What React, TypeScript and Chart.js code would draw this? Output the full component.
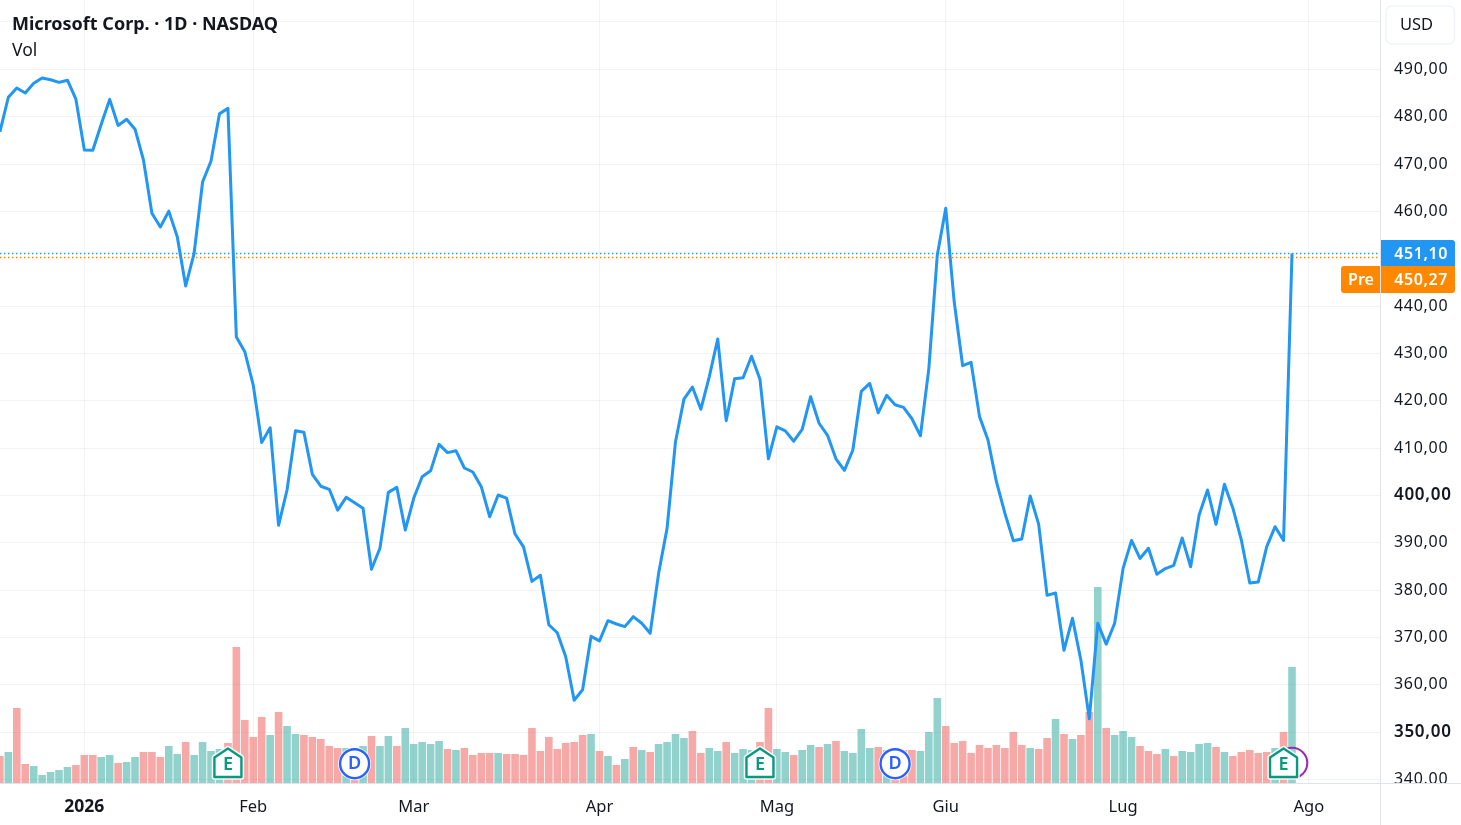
import React, { useEffect, useRef } from "react";
import { Chart, registerables } from "chart.js";

Chart.register(...registerables);

const titleText = "Microsoft Corp. · 1D · NASDAQ";
const volumeLabel = "Vol";
const currency = "USD";

// Daily closes, session by session
const closes = [
  476.8, 484.1, 486.05, 485.0, 487.05, 488.15, 487.8, 487.25, 487.7, 483.7,
  472.95, 472.9, 478.4, 483.65, 478.15, 479.45, 477.35, 470.85, 459.6, 456.7,
  460.05, 454.65, 444.25, 451.15, 466.2, 470.65, 480.6, 481.75, 433.45, 430.35,
  423.3, 411.2, 414.3, 393.7, 401.15, 413.65, 413.35, 404.45, 401.95, 401.3,
  396.9, 399.6, 398.45, 397.3, 384.4, 388.85, 400.65, 401.7, 392.7, 399.4,
  403.95, 405.2, 410.8, 409.05, 409.45, 405.8, 404.95, 401.85, 395.5, 400.1,
  399.45, 391.85, 389.15, 381.85, 383.15, 372.7, 371.0, 365.95, 356.75, 358.95,
  370.25, 369.3, 373.55, 372.85, 372.3, 374.4, 373.0, 370.9, 383.55, 393.05,
  411.35, 420.35, 422.9, 418.2, 425.1, 433.05, 415.8, 424.65, 424.85, 429.4,
  424.55, 407.75, 414.5, 413.65, 411.45, 413.95, 420.85, 415.25, 412.7, 407.75,
  405.3, 409.6, 422.0, 423.65, 417.45, 421.15, 419.15, 418.6, 416.2, 412.6,
  426.85, 450.8, 460.65, 440.9, 427.4, 428.1, 416.65, 411.7, 402.9, 396.25,
  390.45, 390.8, 399.9, 393.95, 378.9, 379.4, 367.3, 374.05, 365.25, 352.85,
  373.0, 368.6, 373.0, 384.6, 390.5, 386.7, 388.85, 383.35, 384.55, 385.25,
  391.0, 384.95, 395.85, 401.15, 393.9, 402.35, 397.3, 390.6, 381.5, 381.7,
  389.15, 393.4, 390.5, 451.1,
];

// Volume per session, relative units
const volumes = [
  27, 31, 75, 19, 17, 8, 11, 13, 16, 18,
  28, 28, 26, 28, 20, 21, 26, 31, 31, 26,
  37, 29, 41, 28, 41, 32, 34, 40, 136, 63,
  46, 66, 48, 71, 57, 49, 48, 46, 44, 37,
  35, 35, 30, 37, 47, 37, 47, 37, 55, 39,
  41, 39, 42, 34, 33, 35, 28, 30, 30, 30,
  29, 29, 28, 55, 32, 46, 34, 40, 41, 48,
  49, 32, 27, 18, 24, 36, 33, 31, 39, 41,
  49, 45, 52, 30, 35, 32, 41, 30, 34, 33,
  41, 75, 34, 31, 28, 33, 38, 36, 39, 42,
  32, 30, 54, 35, 36, 33, 34, 33, 33, 32,
  51, 85, 57, 40, 42, 30, 38, 35, 38, 35,
  51, 38, 35, 34, 45, 64, 49, 44, 48, 71,
  196, 55, 48, 52, 46, 37, 32, 29, 34, 27,
  32, 31, 39, 40, 36, 31, 27, 31, 33, 30,
  31, 35, 51, 116,
];

// U = up session (teal bar), D = down session (red bar)
const sessionDirections =
  "DUDDUUUUUDDDUUDUUDDDUUDUUUUDDDDDUDUUDDDDDUDUDUUDUUUUUDUDDDDUDDDDDDDDDDUDUDUDUDUUUUDDUUDUUUDDUUDUUDUDUUUUDUDDDUUUD" +
  "DDDDDDDDDUDDUDUDDUDUUUDDDUDUUUUDUDDDDDUDU";

const monthTickIndex = [10, 30, 49, 71, 92, 112, 133, 155];
const monthTickLabels = ["2026", "Feb", "Mar", "Apr", "Mag", "Giu", "Lug", "Ago"];
const priceTicks = [340, 350, 360, 370, 380, 390, 400, 410, 420, 430, 440, 450, 460, 470, 480, 490, 500];
const hiddenPriceTicks = [450, 500];

const lastPrice = 451.1;
const prePrice = 450.27;
const prePriceLabel = "Pre";
const earningsIndex = [27, 90, 152];
const dividendIndex = [42, 106];
const splitIndex = [153];

const INK = "#131722";
const FONT = '"Noto Sans", sans-serif';
const PLOT_RIGHT = 1380;
const PLOT_BOTTOM = 783;

const fmt = (v: number) => v.toFixed(2).replace(".", ",");

function roundedBox(ctx: CanvasRenderingContext2D, x: number, y: number, w: number, h: number, r: number | number[]) {
  ctx.beginPath();
  ctx.roundRect(x, y, w, h, r as any);
}

function drawEarnings(ctx: CanvasRenderingContext2D, x: number) {
  const top = 748.5, shoulder = 757.5, bottom = 777, half = 13.5;
  const path = () => {
    ctx.beginPath();
    ctx.moveTo(x, top);
    ctx.lineTo(x + half, shoulder);
    ctx.lineTo(x + half, bottom);
    ctx.lineTo(x - half, bottom);
    ctx.lineTo(x - half, shoulder);
    ctx.closePath();
  };
  ctx.lineJoin = "round";
  path();
  ctx.strokeStyle = "rgba(255,255,255,0.9)";
  ctx.lineWidth = 5.5;
  ctx.stroke();
  path();
  ctx.fillStyle = "#fff";
  ctx.fill();
  ctx.strokeStyle = "#089981";
  ctx.lineWidth = 2.4;
  ctx.stroke();
  ctx.fillStyle = "#089981";
  ctx.font = `600 18px ${FONT}`;
  ctx.textAlign = "center";
  ctx.textBaseline = "middle";
  ctx.fillText("E", x, 765);
}

function drawDividend(ctx: CanvasRenderingContext2D, x: number) {
  const y = 763.7;
  ctx.beginPath();
  ctx.arc(x, y, 16.5, 0, Math.PI * 2);
  ctx.fillStyle = "#fff";
  ctx.fill();
  ctx.beginPath();
  ctx.arc(x, y, 14.5, 0, Math.PI * 2);
  ctx.strokeStyle = "#2962ff";
  ctx.lineWidth = 2.4;
  ctx.stroke();
  ctx.fillStyle = "#2962ff";
  ctx.font = `600 18px ${FONT}`;
  ctx.textAlign = "center";
  ctx.textBaseline = "middle";
  ctx.fillText("D", x, 764);
}

const decorations = {
  id: "decorations",
  beforeDraw(chart: any) {
    // Wider digit spacing for the price axis labels
    chart.ctx.letterSpacing = "0.7px";
  },
  beforeDatasetsDraw(chart: any) {
    const { ctx, scales } = chart;
    ctx.letterSpacing = "0px";
    ctx.save();
    ctx.setLineDash([1.4, 2.6]);
    ctx.lineWidth = 1.3;
    ctx.strokeStyle = "#2196F3";
    const a = Math.floor(scales.y.getPixelForValue(lastPrice)) + 0.5;
    ctx.beginPath();
    ctx.moveTo(0, a);
    ctx.lineTo(PLOT_RIGHT - 2, a);
    ctx.stroke();
    ctx.strokeStyle = "#FF8800";
    const b = Math.floor(scales.y.getPixelForValue(prePrice)) + 0.5;
    ctx.beginPath();
    ctx.moveTo(0, b);
    ctx.lineTo(PLOT_RIGHT - 2, b);
    ctx.stroke();
    ctx.restore();
  },
  afterDatasetsDraw(chart: any) {
    const { ctx, scales } = chart;
    const W = chart.width, H = chart.height;
    ctx.save();
    // Clip the bottom price label at the time axis
    ctx.fillStyle = "#fff";
    ctx.fillRect(0, PLOT_BOTTOM, W, H - PLOT_BOTTOM);
    ctx.strokeStyle = "#E0E3EB";
    ctx.lineWidth = 1;
    ctx.beginPath();
    ctx.moveTo(0, PLOT_BOTTOM + 0.5);
    ctx.lineTo(W, PLOT_BOTTOM + 0.5);
    ctx.moveTo(PLOT_RIGHT + 0.5, 0);
    ctx.lineTo(PLOT_RIGHT + 0.5, H);
    ctx.stroke();

    // Event markers
    splitIndex.forEach((i) => {
      ctx.beginPath();
      ctx.arc(scales.x.getPixelForValue(i), 763, 15.3, 0, Math.PI * 2);
      ctx.strokeStyle = "#9C27B0";
      ctx.lineWidth = 2;
      ctx.stroke();
    });
    dividendIndex.forEach((i) => drawDividend(ctx, scales.x.getPixelForValue(i)));
    earningsIndex.forEach((i) => drawEarnings(ctx, scales.x.getPixelForValue(i)));

    // Legend
    ctx.fillStyle = INK;
    ctx.textAlign = "left";
    ctx.textBaseline = "middle";
    ctx.font = `700 18px ${FONT}`;
    ctx.fillText(titleText, 12, 25);
    ctx.font = `400 17.5px ${FONT}`;
    ctx.fillText(volumeLabel, 12, 51);

    // Currency button
    roundedBox(ctx, 1386, 6, 68.5, 38, 6);
    ctx.fillStyle = "#fff";
    ctx.fill();
    ctx.strokeStyle = "#F0F3FA";
    ctx.lineWidth = 1.5;
    ctx.stroke();
    ctx.fillStyle = INK;
    ctx.font = `400 16.5px ${FONT}`;
    ctx.fillText(currency, 1400, 25);

    // Price badges
    const lastY = scales.y.getPixelForValue(lastPrice);
    ctx.fillStyle = "#2196F3";
    roundedBox(ctx, 1381, 240, 74, 26, [0, 3, 0, 0]);
    ctx.fill();
    ctx.fillStyle = "#FF8800";
    roundedBox(ctx, 1381, 266, 74, 27, [0, 0, 3, 0]);
    ctx.fill();
    roundedBox(ctx, 1341, 266, 39, 27, [3, 0, 0, 3]);
    ctx.fill();
    ctx.fillStyle = "#fff";
    ctx.letterSpacing = "0.6px";
    ctx.font = `600 16px ${FONT}`;
    ctx.textAlign = "right";
    ctx.fillText(fmt(lastPrice), 1448, lastY + 0.5);
    ctx.fillText(fmt(prePrice), 1448, 280);
    ctx.letterSpacing = "0px";
    ctx.textAlign = "center";
    ctx.fillText(prePriceLabel, 1361, 280);
    ctx.restore();
  },
};

export default function App() {
  const ref = useRef<HTMLCanvasElement | null>(null);
  useEffect(() => {
    if (!ref.current) return;
    const chart = new Chart(ref.current, {
      type: "bar",
      plugins: [decorations],
      data: {
        datasets: [
          {
            type: "line",
            data: closes.map((y, x) => ({ x, y })),
            yAxisID: "y",
            borderColor: "#2196F3",
            borderWidth: 3,
            pointRadius: 0,
            tension: 0,
            borderJoinStyle: "round",
            order: 0,
          } as any,
          {
            type: "bar",
            data: volumes.map((y, x) => ({ x, y })),
            yAxisID: "vol",
            backgroundColor: volumes.map((_, i) =>
              sessionDirections[i] === "U" ? "rgba(38,166,154,0.5)" : "rgba(239,83,80,0.5)"
            ),
            barPercentage: 0.9,
            categoryPercentage: 1,
            order: 1,
          } as any,
        ],
      },
      options: {
        animation: false,
        responsive: false,
        devicePixelRatio: 1,
        layout: { padding: 0 },
        plugins: { legend: { display: false }, tooltip: { enabled: false }, title: { display: false } },
        scales: {
          x: {
            type: "linear",
            offset: false,
            min: 0.012,
            max: 163.42,
            afterBuildTicks: (s: any) => {
              s.ticks = monthTickIndex.map((value) => ({ value }));
            },
            afterFit: (s: any) => {
              s.height = 825 - PLOT_BOTTOM;
              s.paddingLeft = 0;
              s.paddingRight = 0;
            },
            grid: { color: "rgba(42,46,57,0.06)", drawTicks: false, offset: false },
            border: { display: false },
            ticks: {
              z: 1,
              autoSkip: false,
              maxRotation: 0,
              padding: 14,
              color: INK,
              font: (c: any) => ({
                family: FONT,
                size: c.tick && c.tick.value === monthTickIndex[0] ? 17.5 : 16.5,
                weight: c.tick && c.tick.value === monthTickIndex[0] ? 700 : 400,
              }),
              callback: (v: any) => {
                const k = monthTickIndex.indexOf(v);
                return k >= 0 ? monthTickLabels[k] : "";
              },
            },
          } as any,
          y: {
            position: "right",
            min: 339.27,
            max: 504.64,
            afterBuildTicks: (s: any) => {
              s.ticks = priceTicks.map((value) => ({ value }));
            },
            afterFit: (s: any) => {
              s.width = 1461 - PLOT_RIGHT;
              s.paddingTop = 0;
              s.paddingBottom = 0;
            },
            grid: {
              drawTicks: false,
              color: (c: any) =>
                c.tick && c.tick.value === 450 ? "rgba(0,0,0,0)" : "rgba(42,46,57,0.06)",
            },
            border: { display: false },
            ticks: {
              autoSkip: false,
              padding: 14,
              color: INK,
              font: (c: any) => ({
                family: FONT,
                size: c.tick && c.tick.value % 50 === 0 ? 17 : 16,
                weight: c.tick && c.tick.value % 50 === 0 ? 600 : 400,
              }),
              callback: (v: any) => (hiddenPriceTicks.includes(v) ? "" : fmt(v)),
            },
          } as any,
          vol: {
            display: false,
            position: "left",
            min: 0,
            max: PLOT_BOTTOM,
          } as any,
        },
      },
    } as any);
    return () => chart.destroy();
  }, []);
  return (
    <div style={{ position: "fixed", left: 0, top: 0, width: 1461, height: 825, background: "#fff" }}>
      <canvas ref={ref} width={1461} height={825} style={{ display: "block", width: 1461, height: 825 }} />
    </div>
  );
}
